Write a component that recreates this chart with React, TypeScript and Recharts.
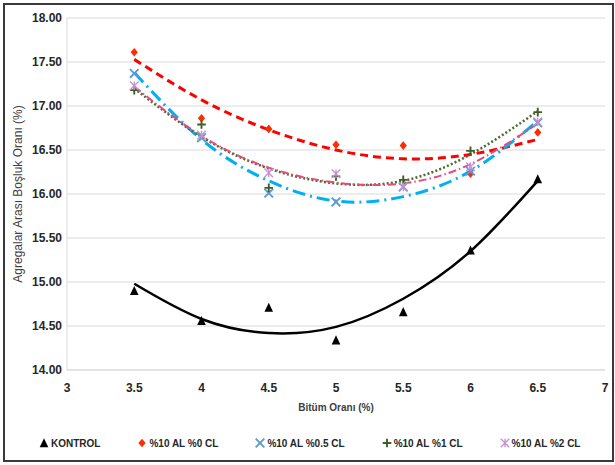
import { CartesianGrid, ComposedChart, Legend, Line, Scatter, XAxis, YAxis } from 'recharts';

const bitumen = [3.5, 4, 4.5, 5, 5.5, 6, 6.5];
const xTicks = [3, 3.5, 4, 4.5, 5, 5.5, 6, 6.5, 7];
const yTicks = [14, 14.5, 15, 15.5, 16, 16.5, 17, 17.5, 18];

const seriesNames = ['KONTROL', '%10 AL %0 CL', '%10 AL %0.5 CL', '%10 AL %1 CL', '%10 AL %2 CL'];

// measured points
const kontrol = [14.9, 14.56, 14.71, 14.34, 14.66, 15.36, 16.17];
const cl0 = [17.61, 16.86, 16.74, 16.56, 16.55, 16.23, 16.7];
const cl05 = [17.37, 16.64, 16.01, 15.91, 16.08, 16.26, 16.81];
const cl1 = [17.18, 16.79, 16.07, 16.2, 16.16, 16.49, 16.93];
const cl2 = [17.23, 16.67, 16.24, 16.23, 16.08, 16.31, 16.82];

// trend lines at the same bitumen ratios
const kontrolTrend = [14.98, 14.58, 14.42, 14.49, 14.81, 15.35, 16.15];
const cl0Trend = [17.53, 17.07, 16.73, 16.5, 16.4, 16.45, 16.62];
const cl05Trend = [17.38, 16.62, 16.15, 15.92, 15.97, 16.26, 16.83];
const cl1Trend = [17.2, 16.65, 16.29, 16.12, 16.15, 16.45, 16.94];
const cl2Trend = [17.22, 16.66, 16.3, 16.13, 16.12, 16.34, 16.8];

type Kind = 'triangle' | 'diamond' | 'cross' | 'plus' | 'star';

const toPoints = (values: number[]) => bitumen.map((x, i) => ({ x, y: values[i] }));

const series = [
  { name: seriesNames[0], values: kontrol, trend: kontrolTrend, kind: 'triangle' as Kind, marker: '#000000', line: '#000000', width: 2.5, dash: undefined },
  { name: seriesNames[1], values: cl0, trend: cl0Trend, kind: 'diamond' as Kind, marker: '#ff2a00', line: '#ff0000', width: 3, dash: '8 5' },
  { name: seriesNames[2], values: cl05, trend: cl05Trend, kind: 'cross' as Kind, marker: '#5b9bd5', line: '#00b0f0', width: 3, dash: '13 5 2 5' },
  { name: seriesNames[3], values: cl1, trend: cl1Trend, kind: 'plus' as Kind, marker: '#3e5f2a', line: '#4a6b33', width: 2.5, dash: '2 2.2' },
  { name: seriesNames[4], values: cl2, trend: cl2Trend, kind: 'star' as Kind, marker: '#c98fd0', line: '#e84a7c', width: 2, dash: '8 3 1.5 3' },
];

const font = "'Liberation Sans', Arial, sans-serif";

function Marker({ kind, cx, cy, color }: { kind: Kind; cx: number; cy: number; color: string }) {
  const s = 4.3;
  if (kind === 'triangle')
    return <polygon points={`${cx},${cy - s - 0.5} ${cx + s},${cy + s} ${cx - s},${cy + s}`} fill={color} />;
  if (kind === 'diamond')
    return <polygon points={`${cx},${cy - s} ${cx + 3.6},${cy} ${cx},${cy + s} ${cx - 3.6},${cy}`} fill={color} />;
  if (kind === 'cross')
    return (
      <path d={`M${cx - s},${cy - s}L${cx + s},${cy + s}M${cx + s},${cy - s}L${cx - s},${cy + s}`} stroke={color} strokeWidth={1.9} />
    );
  if (kind === 'plus')
    return <path d={`M${cx - s},${cy}L${cx + s},${cy}M${cx},${cy - s}L${cx},${cy + s}`} stroke={color} strokeWidth={1.9} />;
  return (
    <path
      d={`M${cx - s},${cy - s}L${cx + s},${cy + s}M${cx + s},${cy - s}L${cx - s},${cy + s}M${cx},${cy - s}L${cx},${cy + s}`}
      stroke={color}
      strokeWidth={1.3}
    />
  );
}

function ChartLegend() {
  return (
    <div style={{ display: 'flex', alignItems: 'center', height: 16, paddingLeft: 34, gap: 37, fontFamily: font, fontWeight: 'bold', fontSize: 10, color: '#262626' }}>
      {series.map((s) => (
        <div key={s.name} style={{ display: 'flex', alignItems: 'center', whiteSpace: 'nowrap' }}>
          <svg width={10} height={10} style={{ marginRight: 2 }}>
            <Marker kind={s.kind} cx={5} cy={5} color={s.marker} />
          </svg>
          <span>{s.name}</span>
        </div>
      ))}
    </div>
  );
}

export default function App() {
  return (
    <div style={{ position: 'absolute', left: 0, top: 0, width: 615, height: 465, background: '#fff' }}>
      <ComposedChart width={615} height={465} margin={{ top: 18, right: 10, left: 5, bottom: 14 }}>
        <CartesianGrid vertical={false} stroke="#d9d9d9" />
        <XAxis
          type="number"
          dataKey="x"
          domain={[3, 7]}
          ticks={xTicks}
          height={65}
          tickSize={0}
          tickMargin={13}
          axisLine={{ stroke: '#d9d9d9' }}
          tick={{ fontFamily: font, fontWeight: 'bold', fontSize: 12, fill: '#262626' }}
          label={{ value: 'Bitüm Oranı (%)', position: 'insideBottom', offset: 24, style: { fontFamily: font, fontWeight: 'bold', fontSize: 10, fill: '#404040' } }}
        />
        <YAxis
          type="number"
          domain={[14, 18]}
          ticks={yTicks}
          width={62}
          tickSize={0}
          tickMargin={5}
          axisLine={{ stroke: '#d9d9d9' }}
          tickFormatter={(v: number) => v.toFixed(2)}
          tick={{ fontFamily: font, fontWeight: 'bold', fontSize: 12, fill: '#262626' }}
          label={{
            value: 'Agregalar Arası Boşluk Oranı (%)',
            angle: -90,
            position: 'insideLeft',
            offset: 12.6,
            style: { textAnchor: 'middle', fontFamily: font, fontSize: 12, fill: '#404040' },
          }}
        />
        <Legend verticalAlign="bottom" align="left" content={() => <ChartLegend />} />
        {series.map((s) => (
          <Scatter
            key={'p' + s.name}
            name={s.name}
            data={toPoints(s.values)}
            dataKey="y"
            isAnimationActive={false}
            shape={(p: any) => <Marker kind={s.kind} cx={p.cx} cy={p.cy} color={s.marker} />}
          />
        ))}
        {series.map((s) => (
          <Line
            key={'t' + s.name}
            data={toPoints(s.trend)}
            dataKey="y"
            type="natural"
            stroke={s.line}
            strokeWidth={s.width}
            strokeDasharray={s.dash}
            dot={false}
            activeDot={false}
            legendType="none"
            isAnimationActive={false}
          />
        ))}
      </ComposedChart>
      <div
        style={{ position: 'absolute', left: 3, top: 3, width: 611, height: 459, border: '2px solid #3a3a3a', boxSizing: 'border-box', pointerEvents: 'none' }}
      />
    </div>
  );
}
